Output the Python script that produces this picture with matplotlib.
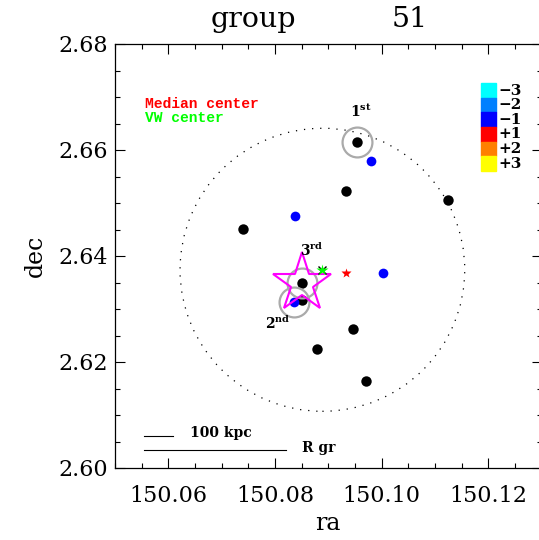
import numpy as np
import matplotlib
matplotlib.use("Agg")
import matplotlib.pyplot as plt
from matplotlib.patches import Circle, Rectangle

plt.rcParams['font.family'] = ['DejaVu Serif']
plt.rcParams['mathtext.fontset'] = 'dejavuserif'

# members of the group (ra, dec)
black_ra = [150.0954, 150.0934, 150.1124, 150.0741, 150.0851, 150.0851, 150.0947, 150.0879, 150.0971]
black_dec = [2.6615, 2.6523, 2.6506, 2.6451, 2.6349, 2.6317, 2.6262, 2.6225, 2.6164]
blue_ra = [150.0980, 150.0838, 150.1003, 150.0835]
blue_dec = [2.6580, 2.6475, 2.6368, 2.6313]

# centres
median_ra, median_dec = 150.0934, 2.6368
vw_ra, vw_dec = 150.0889, 2.6374
bcg_ra, bcg_dec = 150.0851, 2.6349   # magenta star

# brightest galaxies (1st, 2nd, 3rd)
rank_ra = [150.0954, 150.0835, 150.0851]
rank_dec = [2.6615, 2.6313, 2.6349]
rank_labels = [r'$\mathbf{1^{st}}$', r'$\mathbf{2^{nd}}$', r'$\mathbf{3^{rd}}$']

r_gr = 0.0267        # deg
kpc100 = 0.0054      # deg

cbar_labels = ['\u22123', '\u22122', '\u22121', '+1', '+2', '+3']
cbar_colors = ['#00ffff', '#0080ff', '#0000ff', '#ff0000', '#ff8000', '#ffff00']

fig = plt.figure(figsize=(5.39, 5.40), dpi=100)
ax = fig.add_axes([115 / 539, 72 / 540, 426.5 / 539, 424 / 540])
ax.set_xlim(150.05, 150.13)
ax.set_ylim(2.60, 2.68)

# dotted circle of radius R gr around the VW centre
ax.add_patch(Circle((vw_ra, vw_dec), r_gr, fill=False, ls=(0, (1, 5.5)), lw=0.9, color='black'))

ax.plot(black_ra, black_dec, 'o', color='black', ms=7.5, mec='none', zorder=3)
ax.plot(blue_ra, blue_dec, 'o', color='#0000ff', ms=7, mec='none', zorder=3)

# rank circles
ax.plot(rank_ra, rank_dec, 'o', mfc='none', mec='#aaaaaa', mew=1.6, ms=21.5, zorder=4)
offsets = [(4, 31), (-16, -21), (10, 33)]
for x, y, lab, off in zip(rank_ra, rank_dec, rank_labels, offsets):
    ax.annotate(lab, (x, y), xytext=off, textcoords='offset pixels',
                ha='center', va='center', fontsize=10, zorder=6)

ax.plot([bcg_ra], [bcg_dec], '*', mfc='none', mec='#ff00ff', mew=1.5, ms=44, zorder=5)
ax.plot([median_ra], [median_dec], '*', color='red', ms=7, mec='none', zorder=5)
ax.plot([vw_ra], [vw_dec], 'x', color='black', ms=6, mew=1, zorder=5)
ax.plot([vw_ra], [vw_dec], '*', color='#00ff00', ms=9, mec='none', zorder=6)

# legend texts
ax.text(0.07, 0.858, 'Median center', color='red', transform=ax.transAxes,
        family='Liberation Mono', fontweight='bold', fontsize=10.5, va='center')
ax.text(0.07, 0.825, 'VW center', color='#00ff00', transform=ax.transAxes,
        family='Liberation Mono', fontweight='bold', fontsize=10.5, va='center')

# colour bar
h = 0.0344
for i, (lab, col) in enumerate(zip(cbar_labels, cbar_colors)):
    y0 = 0.9073 - (i + 1) * h
    ax.add_patch(Rectangle((0.858, y0), 0.0352, h, color=col, transform=ax.transAxes, zorder=5))
    ax.text(0.900, y0 + h / 2, lab, transform=ax.transAxes, fontsize=11,
            fontweight='bold', va='center', ha='left')

# scale bars
x0 = 150.0554
ax.plot([x0, x0 + kpc100], [2.6061, 2.6061], color='black', lw=0.8)
ax.text(150.0640, 2.6066, '100 kpc', fontsize=10, fontweight='bold', va='center')
ax.plot([x0, x0 + r_gr], [2.6034, 2.6034], color='black', lw=0.8)
ax.text(150.0851, 2.6038, 'R gr', fontsize=10, fontweight='bold', va='center')

# axes / ticks
ax.set_xticks([150.06, 150.08, 150.10, 150.12])
ax.set_xticklabels(['150.06', '150.08', '150.10', '150.12'])
ax.set_yticks([2.60, 2.62, 2.64, 2.66, 2.68])
ax.set_yticklabels(['2.60', '2.62', '2.64', '2.66', '2.68'])
ax.set_xticks(np.arange(150.05, 150.1301, 0.005), minor=True)
ax.set_yticks(np.arange(2.60, 2.6801, 0.005), minor=True)
ax.tick_params(which='both', direction='in', top=True, right=True, labelsize=16)
ax.tick_params(which='major', length=7, width=0.8)
ax.tick_params(which='minor', length=3.6, width=0.8)
ax.tick_params(axis='x', pad=12)
ax.tick_params(axis='y', pad=5)
for s in ax.spines.values():
    s.set_linewidth(0.9)
ax.spines['right'].set_visible(False)

ax.set_xlabel('ra', fontsize=17, labelpad=4)
ax.set_ylabel('dec', fontsize=17, labelpad=8)

fig.text(253 / 539, 1 - 27 / 540, 'group', fontsize=20.5, ha='center', va='baseline')
fig.text(410 / 539, 1 - 27 / 540, '51', fontsize=20.5, ha='center', va='baseline')

fig.savefig('out.png', dpi=100)
